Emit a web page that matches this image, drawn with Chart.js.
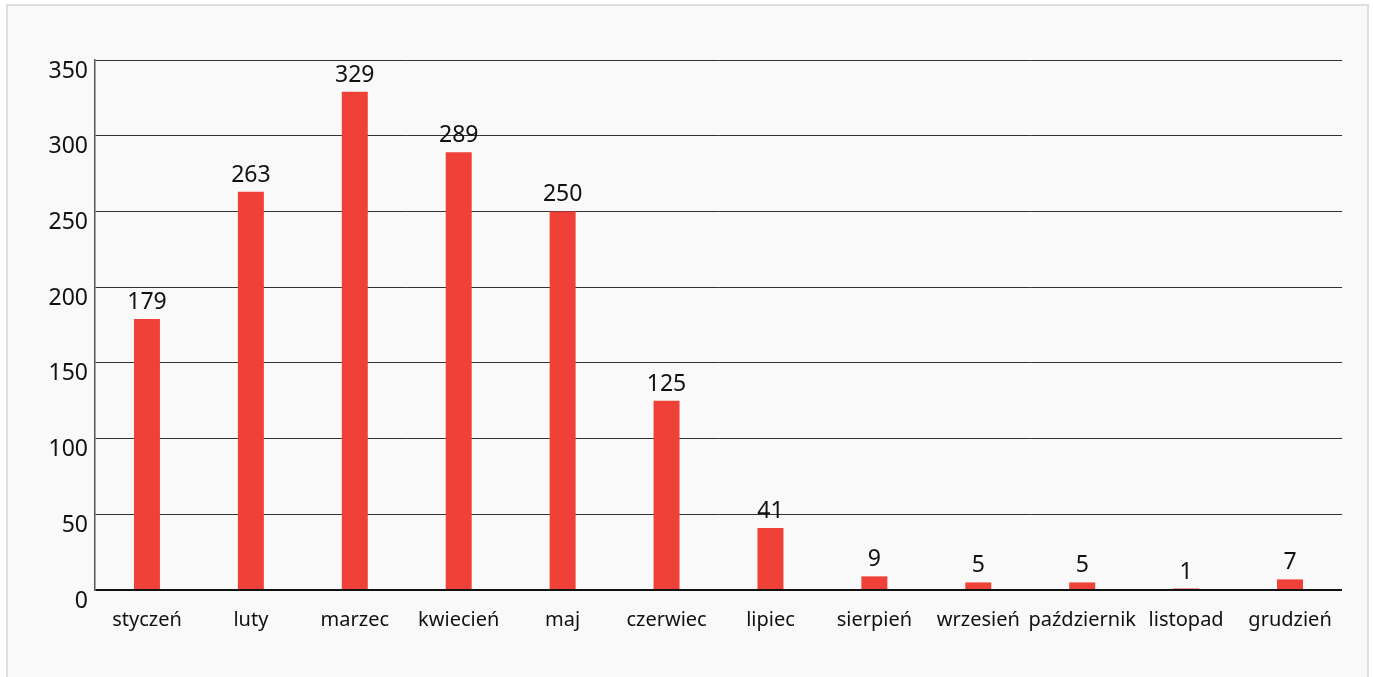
<!DOCTYPE html>
<html lang="pl">
<head>
<meta charset="utf-8">
<title>Miesiące</title>
<script src="https://cdn.jsdelivr.net/npm/chart.js@4"></script>
<style>
  html, body { margin: 0; padding: 0; background: #fff; overflow: hidden; }
  .panel {
    position: absolute; left: 6px; top: 4px; width: 1359px; height: 690px;
    background: #f9f9f9; border: 2px solid #dedede;
  }
  #chart { position: absolute; left: 0; top: 0; }
</style>
</head>
<body>
<div class="panel"></div>
<canvas id="chart" width="1373" height="677"></canvas>
<script>
const months = ['styczeń', 'luty', 'marzec', 'kwiecień', 'maj', 'czerwiec',
                'lipiec', 'sierpień', 'wrzesień', 'październik', 'listopad', 'grudzień'];
const counts = [179, 263, 329, 289, 250, 125, 41, 9, 5, 5, 1, 7];
const yTicks = [0, 50, 100, 150, 200, 250, 300, 350];

const FONT = '"Noto Sans", "Open Sans", sans-serif';

// liczby nad słupkami
const valueLabels = {
  id: 'valueLabels',
  afterDatasetsDraw(chart) {
    const ctx = chart.ctx;
    const meta = chart.getDatasetMeta(0);
    ctx.save();
    ctx.font = `23px ${FONT}`;
    ctx.fillStyle = '#111';
    ctx.textAlign = 'center';
    ctx.textBaseline = 'bottom';
    meta.data.forEach((bar, i) => {
      ctx.fillText(String(counts[i]), bar.x, bar.y - 5);
    });
    ctx.restore();
  }
};

const ctx = document.getElementById('chart').getContext('2d');
new Chart(ctx, {
  type: 'bar',
  data: {
    labels: months,
    datasets: [{
      data: counts,
      backgroundColor: '#ef4137',
      borderWidth: 0,
      barPercentage: 0.5,
      categoryPercentage: 0.5
    }]
  },
  options: {
    responsive: false,
    animation: false,
    layout: { padding: { left: 0, right: 31, top: 60, bottom: 0 } },
    plugins: {
      legend: { display: false },
      tooltip: { enabled: false }
    },
    scales: {
      x: {
        afterFit: s => { s.height = 87; },
        grid: { display: false },
        border: { display: false },
        ticks: {
          color: '#111',
          font: { family: FONT, size: 20 },
          padding: 10,
          maxRotation: 0,
          autoSkip: false
        }
      },
      y: {
        min: 0,
        max: 350,
        afterFit: s => { s.width = 95; },
        afterBuildTicks: s => { s.ticks = yTicks.map(v => ({ value: v })); },
        border: { display: true, color: '#555', width: 1.5 },
        grid: {
          drawTicks: false,
          color: ctx => ctx.tick && ctx.tick.value === 0 ? '#111' : '#333',
          lineWidth: ctx => ctx.tick && ctx.tick.value === 0 ? 2 : 1
        },
        ticks: {
          color: '#111',
          font: { family: FONT, size: 23 },
          padding: 7,
          labelOffset: 11
        }
      }
    }
  },
  plugins: [valueLabels]
});
</script>
</body>
</html>
